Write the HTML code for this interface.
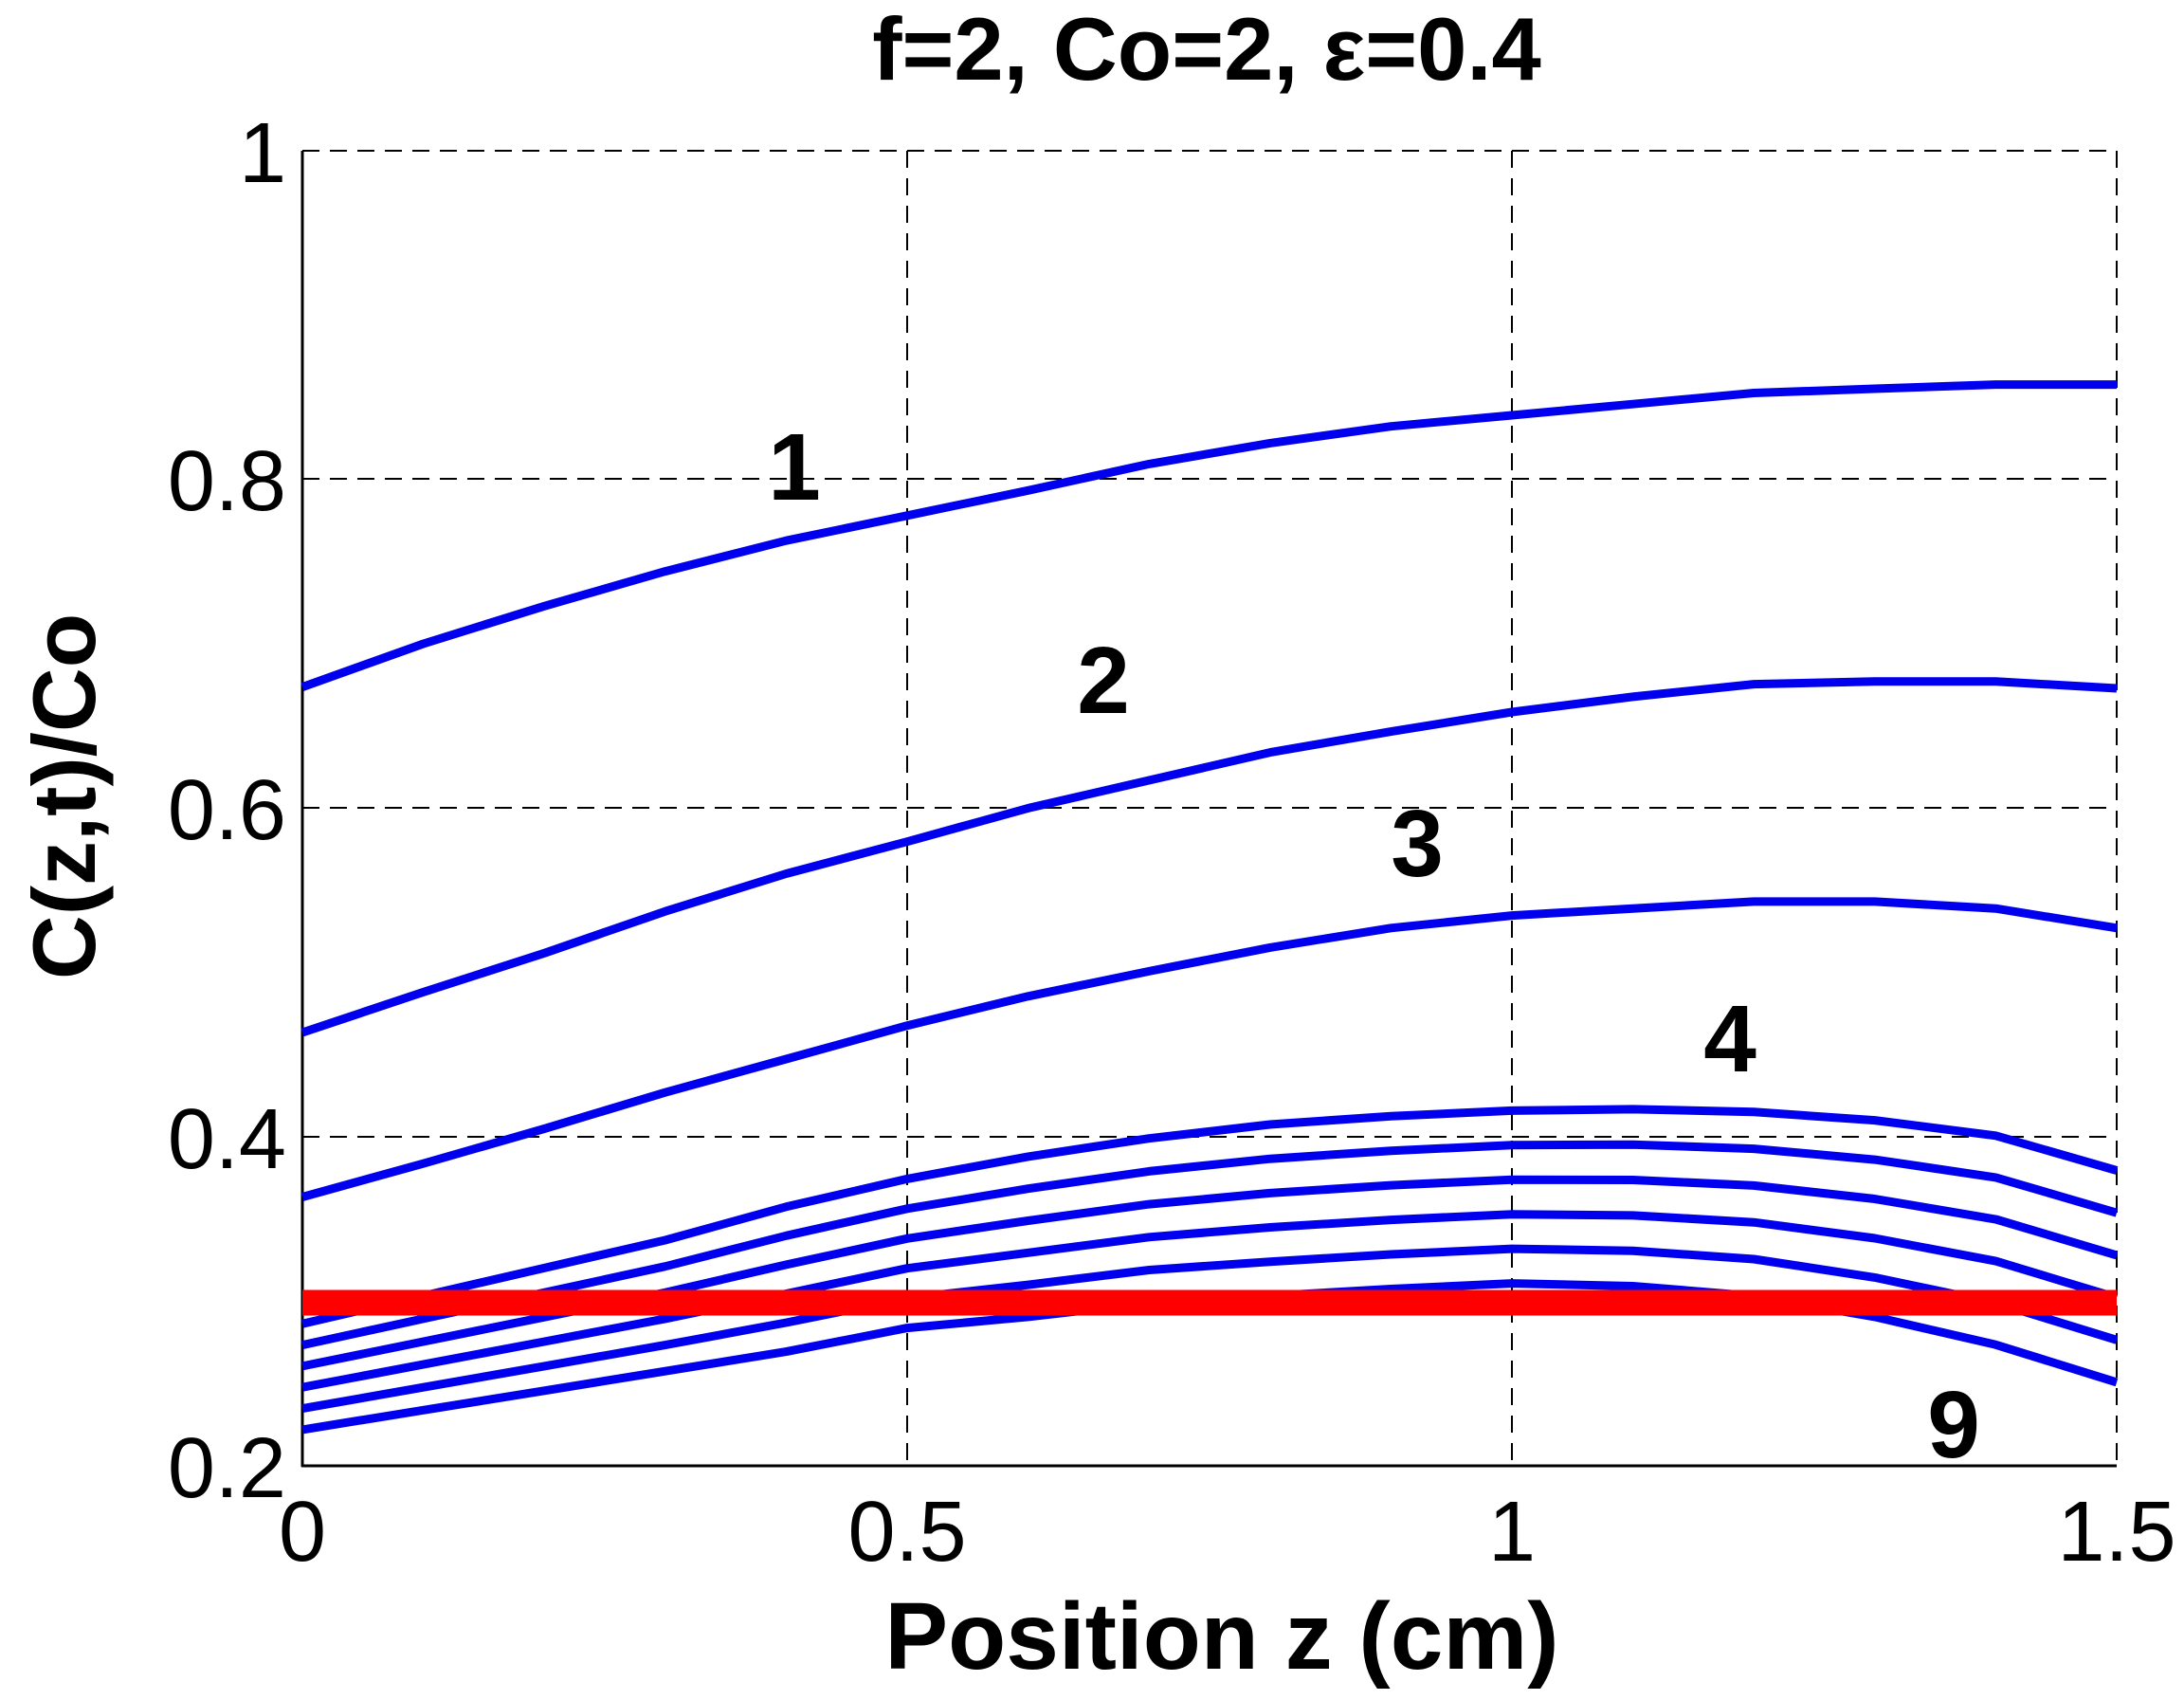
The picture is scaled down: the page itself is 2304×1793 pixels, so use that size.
<!DOCTYPE html>
<html><head><meta charset="utf-8"><style>html,body{margin:0;padding:0;background:#fff}svg{display:block}</style></head>
<body>
<svg id="s" width="2304" height="1793" viewBox="0 0 2304 1793" xmlns="http://www.w3.org/2000/svg" font-family="Liberation Sans, Arial, sans-serif">
<rect width="2304" height="1793" fill="#fff"/>
<g stroke="#000" stroke-width="2" stroke-dasharray="18,11" fill="none">
<line x1="957" y1="159" x2="957" y2="1546"/>
<line x1="1595" y1="159" x2="1595" y2="1546"/>
<line x1="2233" y1="159" x2="2233" y2="1546"/>
<line x1="319" y1="159" x2="2233" y2="159"/>
<line x1="319" y1="505" x2="2233" y2="505"/>
<line x1="319" y1="852" x2="2233" y2="852"/>
<line x1="319" y1="1199" x2="2233" y2="1199"/>
</g>
<g stroke="#000" stroke-width="3" fill="none">
<line x1="319" y1="159" x2="319" y2="1547"/>
<line x1="318" y1="1546" x2="2233" y2="1546"/>
</g>
<g id="curves" fill="none" stroke="#0000ee" stroke-width="9" stroke-linejoin="round"></g>
<line x1="319" y1="1374" x2="2233" y2="1374" stroke="#ff0000" stroke-width="27"/>
<g font-size="90" fill="#000" text-anchor="end">
<text x="302" y="192">1</text>
<text x="302" y="538">0.8</text>
<text x="302" y="885">0.6</text>
<text x="302" y="1232">0.4</text>
<text x="302" y="1579">0.2</text>
</g>
<g font-size="90" fill="#000" text-anchor="middle">
<text x="319" y="1646">0</text>
<text x="957" y="1646">0.5</text>
<text x="1595" y="1646">1</text>
<text x="2233" y="1646">1.5</text>
</g>
<text x="1273" y="84" font-size="94" font-weight="bold" text-anchor="middle">f=2, Co=2, ε=0.4</text>
<text x="1289" y="1760" font-size="100" font-weight="bold" text-anchor="middle">Position z (cm)</text>
<text transform="translate(100,840) rotate(-90)" font-size="94" font-weight="bold" text-anchor="middle">C(z,t)/Co</text>
<g font-size="100" font-weight="bold" text-anchor="middle">
<text x="838" y="527">1</text>
<text x="1164" y="752">2</text>
<text x="1495" y="924">3</text>
<text x="1825" y="1130">4</text>
<text x="2061" y="1537">9</text>
</g>
<script>
var S=1.4697;
var c1=[493,462,435,410,388,370,352,333,318,306,298,290,282,279,276,276];
var c2=[741,712,684,654,627,604,580,560,540,525,511,500,491,489,489,494];
var c3=[859,835,810,784,760,736,715,697,680,666,657,652,647,647,652,666];
var c4=[950,930,910,890,866,846,830,817,807,801,797,796,798,804,815,840];
var c9=[1026,1012,998,984,970,953,945,935,930,925,921,923,930,945,965,992];
var curves=[c1,c2,c3];
for(var k=0;k<6;k++){var a=[];for(var i=0;i<16;i++)a.push(c4[i]+(c9[i]-c4[i])*k/5);curves.push(a);}
var g=document.getElementById('curves');
curves.forEach(function(c){var p='';for(var i=0;i<16;i++){p+=(i?'L':'M')+(319+i*127.6).toFixed(1)+','+(c[i]*S).toFixed(1);}
var e=document.createElementNS('http://www.w3.org/2000/svg','path');e.setAttribute('d',p);g.appendChild(e);});
</script>
</svg>
</body></html>
